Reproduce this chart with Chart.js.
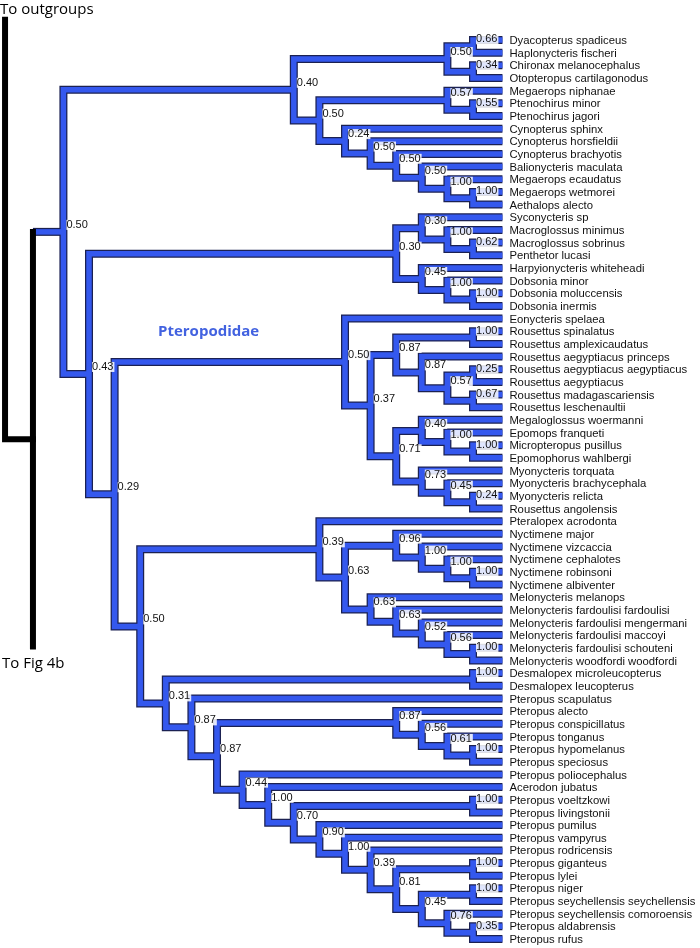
<!DOCTYPE html>
<html>
<head>
<meta charset="utf-8">
<script src="https://cdn.jsdelivr.net/npm/chart.js@4.4.1/dist/chart.umd.min.js"></script>
<style>
body { margin: 0; background: #fff; }
canvas { display: block; }
</style>
</head>
<body>
<canvas id="tree" width="700" height="948"></canvas>
<script>
'use strict'

var leafNames = [
    'Dyacopterus spadiceus', 'Haplonycteris fischeri', 'Chironax melanocephalus', 'Otopteropus cartilagonodus',
    'Megaerops niphanae', 'Ptenochirus minor', 'Ptenochirus jagori', 'Cynopterus sphinx',
    'Cynopterus horsfieldii', 'Cynopterus brachyotis', 'Balionycteris maculata', 'Megaerops ecaudatus',
    'Megaerops wetmorei', 'Aethalops alecto', 'Syconycteris sp', 'Macroglossus minimus',
    'Macroglossus sobrinus', 'Penthetor lucasi', 'Harpyionycteris whiteheadi', 'Dobsonia minor',
    'Dobsonia moluccensis', 'Dobsonia inermis', 'Eonycteris spelaea', 'Rousettus spinalatus',
    'Rousettus amplexicaudatus', 'Rousettus aegyptiacus princeps', 'Rousettus aegyptiacus aegyptiacus', 'Rousettus aegyptiacus',
    'Rousettus madagascariensis', 'Rousettus leschenaultii', 'Megaloglossus woermanni', 'Epomops franqueti',
    'Micropteropus pusillus', 'Epomophorus wahlbergi', 'Myonycteris torquata', 'Myonycteris brachycephala',
    'Myonycteris relicta', 'Rousettus angolensis', 'Pteralopex acrodonta', 'Nyctimene major',
    'Nyctimene vizcaccia', 'Nyctimene cephalotes', 'Nyctimene robinsoni', 'Nyctimene albiventer',
    'Melonycteris melanops', 'Melonycteris fardoulisi fardoulisi', 'Melonycteris fardoulisi mengermani', 'Melonycteris fardoulisi maccoyi',
    'Melonycteris fardoulisi schouteni', 'Melonycteris woodfordi woodfordi', 'Desmalopex microleucopterus', 'Desmalopex leucopterus',
    'Pteropus scapulatus', 'Pteropus alecto', 'Pteropus conspicillatus', 'Pteropus tonganus',
    'Pteropus hypomelanus', 'Pteropus speciosus', 'Pteropus poliocephalus', 'Acerodon jubatus',
    'Pteropus voeltzkowi', 'Pteropus livingstonii', 'Pteropus pumilus', 'Pteropus vampyrus',
    'Pteropus rodricensis', 'Pteropus giganteus', 'Pteropus lylei', 'Pteropus niger',
    'Pteropus seychellensis seychellensis', 'Pteropus seychellensis comoroensis', 'Pteropus aldabrensis', 'Pteropus rufus'
]

// clades as [support, child, child]; plain numbers are indexes into leafNames
var cladeTree = ['0.50',
    ['0.40',
        ['0.50', ['0.66', 0, 1], ['0.34', 2, 3]],
        ['0.50', ['0.57', 4, ['0.55', 5, 6]],
            ['0.24', 7, ['0.50', 8, ['0.50', 9, ['0.50', 10, ['1.00', 11, ['1.00', 12, 13]]]]]]]],
    ['0.43',
        ['0.30', ['0.30', 14, ['1.00', 15, ['0.62', 16, 17]]], ['0.45', 18, ['1.00', 19, ['1.00', 20, 21]]]],
        ['0.29',
            ['0.50', 22, ['0.37',
                ['0.87', ['1.00', 23, 24], ['0.87', 25, ['0.57', ['0.25', 26, 27], ['0.67', 28, 29]]]],
                ['0.71', ['0.40', 30, ['1.00', 31, ['1.00', 32, 33]]], ['0.73', 34, ['0.45', 35, ['0.24', 36, 37]]]]]],
            ['0.50',
                ['0.39', 38, ['0.63',
                    ['0.96', 39, ['1.00', 40, ['1.00', 41, ['1.00', 42, 43]]]],
                    ['0.63', 44, ['0.63', 45, ['0.52', 46, ['0.56', 47, ['1.00', 48, 49]]]]]]],
                ['0.31', ['1.00', 50, 51],
                    ['0.87', 52,
                        ['0.87',
                            ['0.87', 53, ['0.56', 54, ['0.61', 55, ['1.00', 56, 57]]]],
                            ['0.44', 58, ['1.00', 59, ['0.70', ['1.00', 60, 61],
                                ['0.90', 62, ['1.00', 63, ['0.39', 64, ['0.81', ['1.00', 65, 66],
                                    ['0.45', ['1.00', 67, 68], ['0.76', 69, ['0.35', 70, 71]]]]]]]]]]]]]]]]]

var leafColumn = 17
var tipColumn = 17.15
var stubColumns = [-2.28, -1.19]
var outgroupTop = -1.6
var fig4bBottom = 47.9

var BLUE = '#3458ee'
var EDGE = '#1b2152'

var outlineSets = []
var blueSets = []
var nodeLabels = []

function lineSet(points, color, width, order, cap){
    return {
        data: points,
        showLine: true,
        borderColor: color,
        borderWidth: width,
        borderJoinStyle: 'miter',
        borderCapStyle: cap || 'butt',
        pointRadius: 0,
        fill: false,
        order: order
    }
}

function layout(node){
    if (typeof node === 'number') {
        return {x: leafColumn, drawX: tipColumn, y: node}
    }
    var kids = []
    for (var i = 1; i < node.length; i++) kids.push(layout(node[i]))
    var first = kids[0], last = kids[kids.length - 1]
    var col = Math.min.apply(null, kids.map(function(k){ return k.x })) - 1
    var me = {x: col, drawX: col, y: (first.y + last.y) / 2}
    var pts = [
        {x: first.drawX, y: first.y}, {x: col, y: first.y},
        {x: col, y: last.y}, {x: last.drawX, y: last.y}
    ]
    outlineSets.push(lineSet(pts, EDGE, 8, 3))
    blueSets.push(lineSet(pts, BLUE, 5.5, 2))
    nodeLabels.push({text: node[0], x: col, y: me.y})
    return me
}

var root = layout(cladeTree)
var stubY = (root.y + fig4bBottom) / 2
var rootStem = [{x: stubColumns[1], y: root.y}, {x: root.x, y: root.y}]
outlineSets.push(lineSet(rootStem, EDGE, 8, 3))
blueSets.push(lineSet(rootStem, BLUE, 5.5, 2))

var blackSets = [
    lineSet([{x: stubColumns[0], y: outgroupTop}, {x: stubColumns[0], y: stubY}, {x: stubColumns[1], y: stubY}], '#000', 6, 1, 'square'),
    lineSet([{x: stubColumns[1], y: root.y}, {x: stubColumns[1], y: fig4bBottom}], '#000', 6, 1, 'square')
]

var textPlugin = {
    id: 'treeText',
    afterDatasetsDraw: function(chart){
        var ctx = chart.ctx
        var xs = chart.scales.x, ys = chart.scales.y
        ctx.save()
        ctx.textBaseline = 'middle'
        ctx.textAlign = 'left'

        ctx.font = '11px "Liberation Sans", Arial, sans-serif'
        nodeLabels.forEach(function(lb){
            var px = xs.getPixelForValue(lb.x) + 3
            var py = ys.getPixelForValue(lb.y) - 7
            var w = ctx.measureText(lb.text).width
            ctx.fillStyle = 'rgba(255,255,255,0.85)'
            ctx.fillRect(px, py - 5, w + 1, 10)
            ctx.fillStyle = '#111'
            ctx.fillText(lb.text, px, py)
        })

        ctx.font = '11.3px "Liberation Sans", Arial, sans-serif'
        ctx.fillStyle = '#111'
        leafNames.forEach(function(name, i){
            ctx.fillText(name, xs.getPixelForValue(tipColumn) + 7, ys.getPixelForValue(i) + 1)
        })

        ctx.textBaseline = 'alphabetic'
        ctx.font = '15px "Open Sans", sans-serif'
        ctx.fillStyle = '#000'
        ctx.fillText('To outgroups', 0, 14)
        ctx.fillText('To Fig 4b', 2, 668)

        ctx.font = 'bold 15px "Open Sans", sans-serif'
        ctx.fillStyle = '#4262e0'
        ctx.fillText('Pteropodidae', 158, 336)
        ctx.restore()
    }
}

new Chart(document.getElementById('tree'), {
    type: 'scatter',
    data: {datasets: blackSets.concat(blueSets, outlineSets)},
    options: {
        responsive: false,
        animation: false,
        devicePixelRatio: 1,
        layout: {padding: 0},
        plugins: {legend: {display: false}, tooltip: {enabled: false}},
        scales: {
            x: {type: 'linear', display: false, min: -2.477, max: 24.867},
            y: {type: 'linear', display: false, reverse: true, min: -3.159, max: 71.71}
        }
    },
    plugins: [textPlugin]
})
</script>
</body>
</html>
